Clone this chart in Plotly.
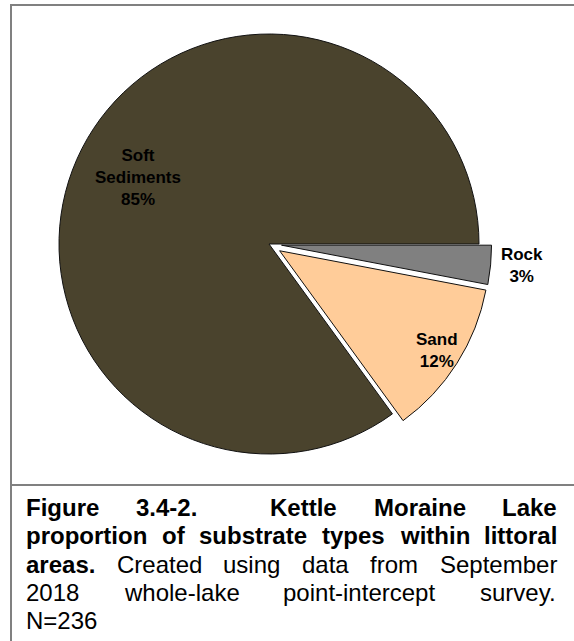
import math
import plotly.graph_objects as go

W, H = 574, 641

# Substrate composition (percent of littoral sample points)
substrates = ["Rock", "Sand", "Soft Sediments"]
label_lines = ["Rock", "Sand", "Soft<br>Sediments"]
percent = [3, 12, 85]
slice_colors = ["#808080", "#FFCC99", "#4A432D"]
explode = [0.06, 0.06, 0.0]

# Caption text, one entry per printed line: (word, bold, spaces after)
caption_lines = [
    [("Figure", True, 1), ("3.4-2.", True, 2), ("Kettle", True, 1), ("Moraine", True, 1), ("Lake", True, 0)],
    [("proportion", True, 1), ("of", True, 1), ("substrate", True, 1), ("types", True, 1),
     ("within", True, 1), ("littoral", True, 0)],
    [("areas.", True, 1), ("Created", False, 1), ("using", False, 1), ("data", False, 1),
     ("from", False, 1), ("September", False, 0)],
    [("2018", False, 1), ("whole-lake", False, 1), ("point-intercept", False, 1), ("survey.", False, 0)],
    [("N=236", False, 0)],
]
caption_y = [507, 535, 564, 592, 620]
justify = [True, True, True, True, False]

FONT = "Liberation Sans, Arial, sans-serif"
CAPTION_SIZE = 24
LABEL_SIZE = 17

# Arial advance widths (1/1000 em) for the glyphs used in the caption
_REG = dict(zip("0123456789", [556] * 10))
_REG.update({" ": 278, ".": 278, "-": 333, "=": 584, "C": 722, "N": 722, "S": 667,
             "a": 556, "b": 556, "c": 500, "d": 556, "e": 556, "f": 278, "g": 556, "h": 556,
             "i": 222, "k": 500, "l": 222, "m": 833, "n": 556, "o": 556, "p": 556, "r": 333,
             "s": 500, "t": 278, "u": 556, "v": 500, "w": 722, "y": 500})
_BOLD = dict(zip("0123456789", [556] * 10))
_BOLD.update({" ": 278, ".": 278, "-": 333, "F": 611, "K": 722, "L": 611, "M": 833,
              "a": 556, "b": 611, "e": 556, "f": 333, "g": 611, "h": 611, "i": 278, "k": 556,
              "l": 278, "n": 611, "o": 611, "p": 611, "r": 389, "s": 556, "t": 333, "u": 611,
              "w": 778, "y": 556})


def text_width(s, bold, size):
    table = _BOLD if bold else _REG
    return sum(table.get(ch, 556) for ch in s) * size / 1000.0


def px(x):
    return x / W


def py(y):
    return 1 - y / H


cx, cy, r = 269, 244, 210
half = r * (1 + max(explode))

fig = go.Figure(
    go.Pie(
        labels=substrates,
        values=percent,
        customdata=label_lines,
        texttemplate=["<b>%{customdata}<br>%{percent:.0%}</b>", "", ""],
        textposition=["outside", "none", "none"],
        sort=False,
        direction="clockwise",
        rotation=90,
        pull=explode,
        marker=dict(colors=slice_colors, line=dict(color="#111111", width=1)),
        textfont=dict(family=FONT, size=LABEL_SIZE, color="#000000"),
        domain=dict(x=[px(cx - half), px(cx + half)], y=[py(cy + half), py(cy - half)]),
        showlegend=False,
        hoverinfo="label+percent",
    )
)

annotations = []

# Inside labels for Sand and Soft Sediments, placed on each slice's bisector
label_radius = {"Sand": 0.95, "Soft Sediments": 0.70}
total = sum(percent)
start = 0.0
for name, disp, val in zip(substrates, label_lines, percent):
    mid = (start + val / 2) / total * 2 * math.pi  # clockwise from 3 o'clock
    start += val
    if name not in label_radius:
        continue
    rho = r * label_radius[name]
    lx = cx + rho * math.cos(mid)
    ly = cy + rho * math.sin(mid)
    annotations.append(dict(
        x=px(lx), y=py(ly), xref="paper", yref="paper",
        text=f"<b>{disp}<br>{round(100 * val / total)}%</b>",
        showarrow=False, xanchor="center", yanchor="middle",
        font=dict(family=FONT, size=LABEL_SIZE, color="#000000"),
    ))

# Frame: top rule, left rule and the rule above the caption
border = dict(color="#808080", width=2)
shapes = [
    dict(type="line", xref="paper", yref="paper", x0=px(10), x1=px(W + 5), y0=py(5), y1=py(5), line=border),
    dict(type="line", xref="paper", yref="paper", x0=px(11), x1=px(11), y0=py(4), y1=py(H + 5), line=border),
    dict(type="line", xref="paper", yref="paper", x0=px(10), x1=px(W + 5), y0=py(485), y1=py(485), line=border),
]

# Justified caption: spaces stretched so each line runs margin to margin
left_x, right_x = 25, 556
for words, y, just in zip(caption_lines, caption_y, justify):
    widths = [text_width(w, b, CAPTION_SIZE) for w, b, _ in words]
    n_spaces = sum(sp for _, _, sp in words)
    if just and n_spaces:
        gap = (right_x - left_x - sum(widths)) / n_spaces
    else:
        gap = 0.278 * CAPTION_SIZE
    x = left_x
    for (w, b, sp), wd in zip(words, widths):
        annotations.append(dict(
            x=px(x), y=py(y), xref="paper", yref="paper",
            text=f"<b>{w}</b>" if b else w,
            showarrow=False, xanchor="left", yanchor="middle", borderpad=0,
            font=dict(family=FONT, size=CAPTION_SIZE, color="#000000"),
        ))
        x += wd + sp * gap

fig.update_layout(
    width=W, height=H,
    margin=dict(l=0, r=0, t=0, b=0),
    paper_bgcolor="#FFFFFF",
    plot_bgcolor="#FFFFFF",
    shapes=shapes,
    annotations=annotations,
)

fig.write_html("out.html")
